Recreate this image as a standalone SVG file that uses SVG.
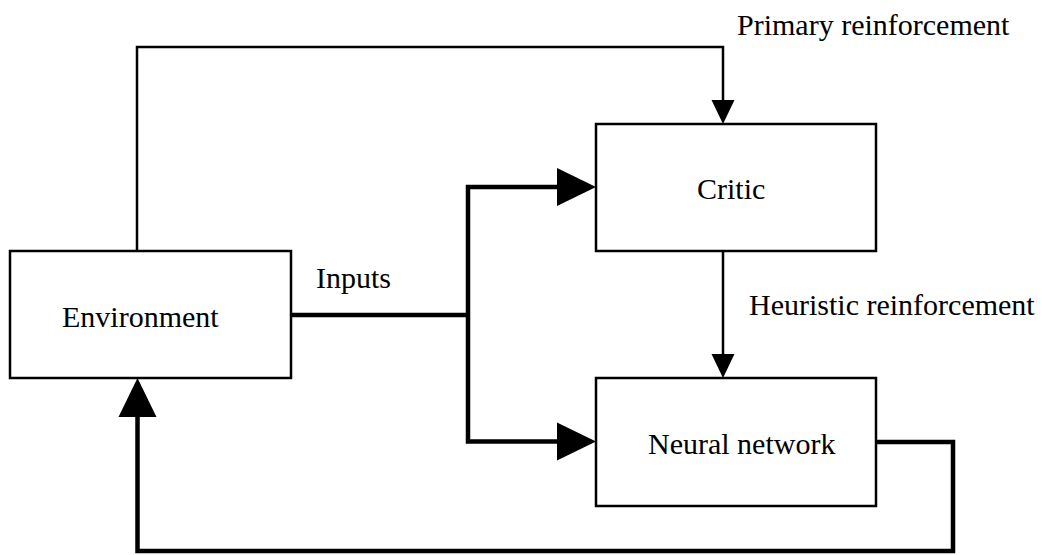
<svg xmlns="http://www.w3.org/2000/svg" width="1042" height="555" viewBox="0 0 1042 555">
  <style>
    .box { fill: #fff; stroke: #000; stroke-width: 2.5; }
    .label { font-family: "Liberation Serif", "Times New Roman", serif; font-size: 30px; fill: #000; }
    .thin { fill: none; stroke: #000; stroke-width: 2.5; }
    .thick { fill: none; stroke: #000; stroke-width: 4.5; }
    .head { fill: #000; stroke: none; }
  </style>
  <rect width="1042" height="555" fill="#fff"/>

  <g id="connectors">
    <!-- primary reinforcement: environment to critic -->
    <polyline class="thin" points="137,251 137,47 723,47 723,102"/>
    <polygon class="head" points="711.5,100 734.5,100 723,124"/>
    <!-- heuristic reinforcement: critic to neural network -->
    <line class="thin" x1="723" y1="251" x2="723" y2="356"/>
    <polygon class="head" points="711.5,354 734.5,354 723,378"/>
    <!-- inputs: environment to critic and neural network -->
    <line class="thick" x1="291" y1="315" x2="468" y2="315"/>
    <polyline class="thick" points="560,187 468,187 468,441.5 560,441.5"/>
    <polygon class="head" points="557,168 557,206 596,187"/>
    <polygon class="head" points="557,422.5 557,460.5 596,441.5"/>
    <!-- actions: neural network back to environment -->
    <polyline class="thick" points="876,442 953,442 953,551 137.5,551 137.5,412"/>
    <polygon class="head" points="118.5,417 156.5,417 137.5,378"/>
  </g>

  <g id="environment">
    <rect class="box" x="10" y="251" width="281" height="127"/>
    <text class="label" x="62" y="327">Environment</text>
  </g>

  <g id="critic">
    <rect class="box" x="596" y="124" width="280" height="127"/>
    <text class="label" x="697" y="199">Critic</text>
  </g>

  <g id="neural-network">
    <rect class="box" x="596" y="378" width="280" height="128"/>
    <text class="label" x="648" y="454">Neural network</text>
  </g>

  <g id="edge-labels">
    <text class="label" x="737" y="35">Primary reinforcement</text>
    <text class="label" x="749" y="315">Heuristic reinforcement</text>
    <text class="label" x="316" y="288">Inputs</text>
  </g>
</svg>
